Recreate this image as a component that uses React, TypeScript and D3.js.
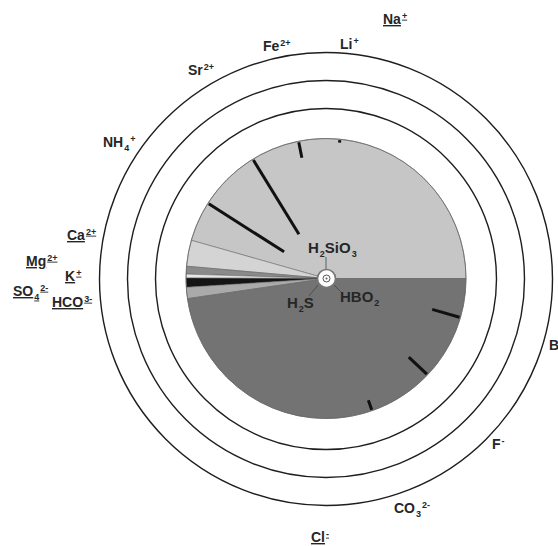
import React from "react";
import * as d3 from "d3";

// Major ions (pie shares, %), counter-clockwise from 3 o'clock
const ionNames = ["Na⁺", "Ca²⁺", "Mg²⁺", "K⁺", "SO₄²⁻", "HCO₃⁻", "Cl⁻"];
const ionShares = [45.6, 3.0, 0.9, 0.45, 1.05, 1.3, 47.7];
const ionColors = ["#c6c6c6", "#d4d4d4", "#8a8a8a", "#e6e6e6", "#141414", "#aaaaaa", "#737373"];

// Minor components drawn as radial bars (angle in degrees, relative length 0..1)
const minorNames = ["Li⁺", "Fe²⁺", "Sr²⁺", "NH₄⁺", "B", "F⁻", "CO₃²⁻"];
const minorAngles = [84.3, 101.3, 121.5, 147.5, -16.2, -43.5, -70.8];
const minorValues = [0.025, 0.12, 0.63, 0.645, 0.21, 0.185, 0.08];

const ringLevels = [1, 2, 3];

type Part = { t: string; sup?: boolean; sub?: boolean };

const labelParts: { parts: Part[]; x: number; y: number; u?: boolean; size?: number }[] = [
  { parts: [{ t: "Na" }, { t: "+", sup: true }], x: 383, y: 24, u: true },
  { parts: [{ t: "Li" }, { t: "+", sup: true }], x: 340, y: 49 },
  { parts: [{ t: "Fe" }, { t: "2+", sup: true }], x: 263, y: 51 },
  { parts: [{ t: "Sr" }, { t: "2+", sup: true }], x: 188, y: 75 },
  { parts: [{ t: "NH" }, { t: "4", sub: true }, { t: "+", sup: true }], x: 103, y: 147 },
  { parts: [{ t: "Ca" }, { t: "2+", sup: true }], x: 67, y: 240, u: true },
  { parts: [{ t: "Mg" }, { t: "2+", sup: true }], x: 26, y: 266, u: true },
  { parts: [{ t: "K" }, { t: "+", sup: true }], x: 65, y: 281, u: true },
  { parts: [{ t: "SO" }, { t: "4", sub: true }, { t: "2-", sup: true }], x: 13, y: 296, u: true },
  { parts: [{ t: "HCO" }, { t: "3-", sup: true }], x: 52, y: 307, u: true },
  { parts: [{ t: "B" }], x: 549, y: 350 },
  { parts: [{ t: "F" }, { t: "-", sup: true }], x: 492, y: 449 },
  { parts: [{ t: "CO" }, { t: "3", sub: true }, { t: "2-", sup: true }], x: 394, y: 513 },
  { parts: [{ t: "Cl" }, { t: "-", sup: true }], x: 311, y: 542, u: true },
  { parts: [{ t: "H" }, { t: "2", sub: true }, { t: "SiO" }, { t: "3", sub: true }], x: 308, y: 253, size: 15 },
  { parts: [{ t: "H" }, { t: "2", sub: true }, { t: "S" }], x: 287, y: 308, size: 15 },
  { parts: [{ t: "HBO" }, { t: "2", sub: true }], x: 340, y: 302, size: 15 },
];

function Label({ parts, x, y, u, size = 14 }: { parts: Part[]; x: number; y: number; u?: boolean; size?: number }) {
  const small = Math.round(size * 0.62);
  let shift = 0;
  return (
    <text
      x={x}
      y={y}
      fontFamily="'Liberation Sans', Arial, sans-serif"
      fontWeight="bold"
      fontSize={size}
      fill="#262626"
      style={u ? { textDecoration: "underline" } : undefined}
    >
      {parts.map((p, i) => {
        const target = p.sup ? -size * 0.38 : p.sub ? size * 0.25 : 0;
        const dy = target - shift;
        shift = target;
        return (
          <tspan key={i} dy={dy} dx={p.sup || p.sub ? 1 : 0} fontSize={p.sup || p.sub ? small : size}>
            {p.t}
          </tspan>
        );
      })}
    </text>
  );
}

export default function App() {
  const W = 558, H = 546;
  const cx = 326, cy = 278.5;
  const pieR = 140;

  const ringScale = d3.scaleLinear().domain([0, 3]).range([142.5, 226.5]);
  const deg = d3.scaleLinear().domain([0, 360]).range([0, 2 * Math.PI]);
  const lenScale = d3.scaleLinear().domain([0, 1]).range([pieR, 0]);

  const pie = d3
    .pie<number>()
    .sort(null)
    .value((d) => d)
    .startAngle(Math.PI / 2)
    .endAngle(Math.PI / 2 - 2 * Math.PI);
  const arcs = pie(ionShares);
  const arc = d3.arc<d3.PieArcDatum<number>>().innerRadius(0).outerRadius(pieR);

  const pt = (a: number, r: number) => [cx + r * Math.cos(deg(a)), cy - r * Math.sin(deg(a))];

  return (
    <svg width={W} height={H} style={{ position: "absolute", left: 0, top: 0, background: "#fff" }}>
      {ringLevels.map((l) => (
        <circle key={l} cx={cx} cy={cy + 0.5} r={ringScale(l)} fill="none" stroke="#1e1e1e" strokeWidth={1.4} />
      ))}
      <g transform={`translate(${cx},${cy})`}>
        {arcs.map((a, i) => (
          <path key={ionNames[i]} d={arc(a) || ""} fill={ionColors[i]} stroke="#5a5a5a" strokeWidth={0.5} />
        ))}
        <circle r={pieR} fill="none" stroke="#6a6a6a" strokeWidth={0.8} />
      </g>
      {minorNames.map((n, i) => {
        const [x1, y1] = pt(minorAngles[i], pieR - 1);
        const [x2, y2] = pt(minorAngles[i], lenScale(minorValues[i]));
        return <line key={n} x1={x1} y1={y1} x2={x2} y2={y2} stroke="#111" strokeWidth={3} />;
      })}
      {/* leader lines for centre labels */}
      <line x1={326} y1={257} x2={326} y2={269} stroke="#444" strokeWidth={0.8} />
      <line x1={309} y1={296} x2={318} y2={285} stroke="#444" strokeWidth={0.8} />
      <line x1={334} y1={285} x2={342} y2={293} stroke="#444" strokeWidth={0.8} />
      <circle cx={cx + 0.5} cy={cy} r={9} fill="#fff" stroke="#777" strokeWidth={1.6} />
      <circle cx={cx + 0.5} cy={cy} r={3.5} fill="none" stroke="#555" strokeWidth={1} />
      <circle cx={cx + 0.5} cy={cy} r={1} fill="#555" />
      {labelParts.map((l, i) => (
        <Label key={i} {...l} />
      ))}
    </svg>
  );
}
